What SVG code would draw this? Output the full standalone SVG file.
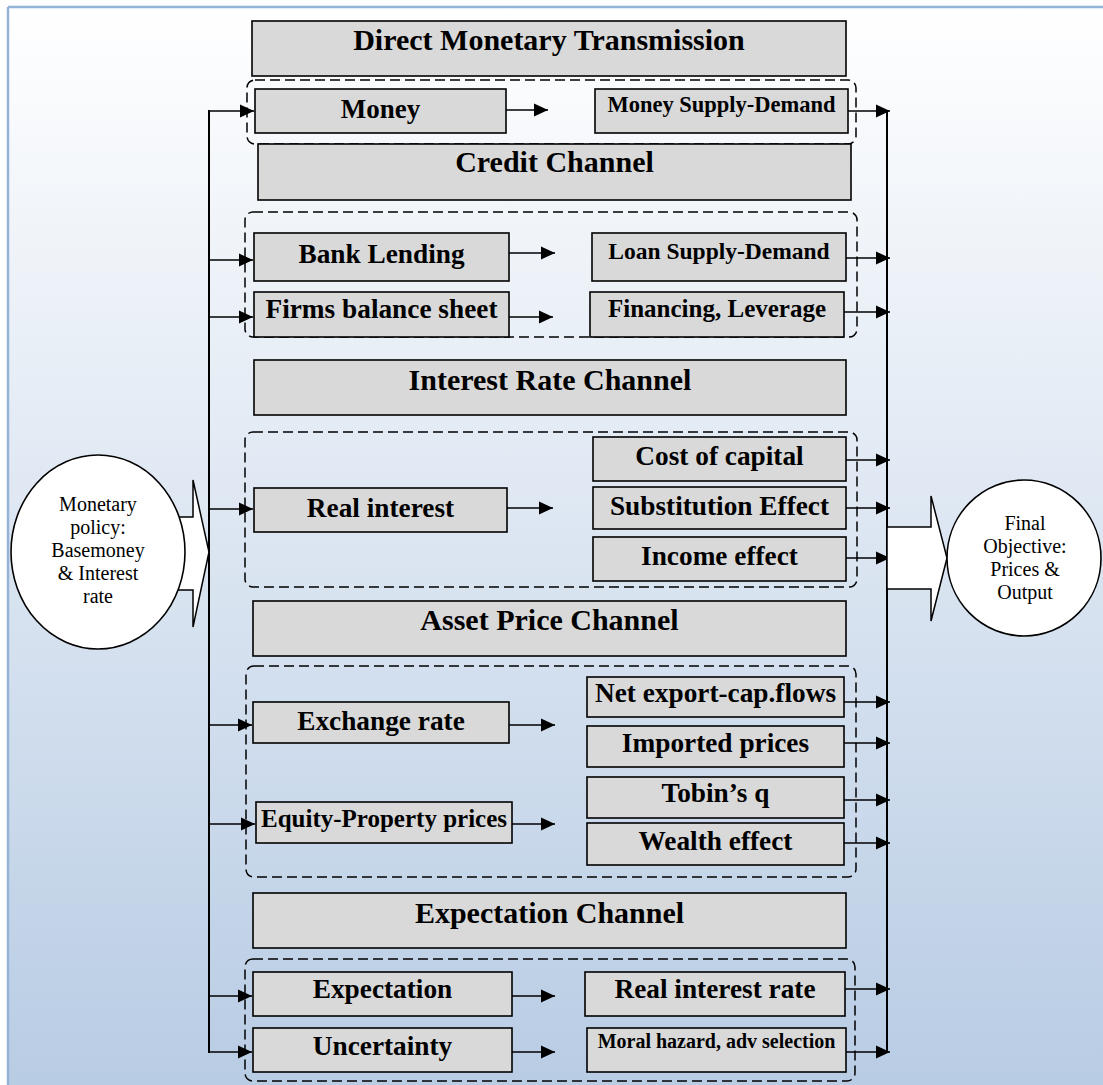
<svg xmlns="http://www.w3.org/2000/svg" width="1103" height="1085" viewBox="0 0 1103 1085">
<defs>
<linearGradient id="bg" x1="0" y1="0" x2="0" y2="1">
<stop offset="0" stop-color="#ffffff"/>
<stop offset="1" stop-color="#b8cce4"/>
</linearGradient>
<marker id="ah" markerUnits="userSpaceOnUse" markerWidth="14" markerHeight="14" refX="14" refY="7" orient="auto">
<path d="M0,0.5 L14,7 L0,13.5 z" fill="#000"/>
</marker>
<style>
.box{fill:#d9d9d9;stroke:#000;stroke-width:1.6}
.grp{fill:none;stroke:#000;stroke-width:1.5;stroke-dasharray:10 5}
.hd{font-family:"Liberation Serif","Times New Roman",serif;font-weight:bold;font-size:30px;text-anchor:middle;fill:#000}
.tx{font-family:"Liberation Serif","Times New Roman",serif;font-weight:bold;font-size:27.3px;text-anchor:middle;fill:#000}
.el{font-family:"Liberation Serif","Times New Roman",serif;font-size:20px;text-anchor:middle;fill:#000}
.ln{stroke:#000;stroke-width:2;fill:none}
.ar{stroke:#000;stroke-width:1.7;fill:none;marker-end:url(#ah)}
.blk{fill:#fff;stroke:#000;stroke-width:1.5}
</style>
</defs>
<rect x="8" y="7" width="1095" height="1078" fill="url(#bg)"/>
<line x1="8" y1="7" x2="1103" y2="7" stroke="#95b3d7" stroke-width="2.5"/>
<line x1="8" y1="7" x2="8" y2="1085" stroke="#95b3d7" stroke-width="2.5"/>

<g id="grp-direct"><rect class="grp" x="247" y="80" width="609" height="64" rx="8"/></g>
<g id="grp-credit"><rect class="grp" x="245" y="212" width="612" height="125" rx="8"/></g>
<g id="grp-interest"><rect class="grp" x="245" y="432" width="612" height="155" rx="8"/></g>
<g id="grp-asset"><rect class="grp" x="246" y="666" width="610" height="211" rx="8"/></g>
<g id="grp-expect"><rect class="grp" x="245" y="959" width="610" height="122" rx="8"/></g>

<g id="h-direct"><rect class="box" x="252" y="21" width="594" height="55"/><text class="hd" x="549" y="50">Direct Monetary Transmission</text></g>
<g id="money"><rect class="box" x="255" y="89" width="251" height="44"/><text class="tx" x="380.5" y="118" style="font-size:27px">Money</text></g>
<g id="money-sd"><rect class="box" x="595" y="89" width="253" height="44"/><text class="tx" x="721.5" y="112" style="font-size:22.5px">Money Supply-Demand</text></g>

<g id="h-credit"><rect class="box" x="258" y="144" width="593" height="56"/><text class="hd" x="554.5" y="172">Credit Channel</text></g>
<g id="bank-lending"><rect class="box" x="254" y="233" width="255" height="48"/><text class="tx" x="381.5" y="263">Bank Lending</text></g>
<g id="loan-sd"><rect class="box" x="592" y="233" width="254" height="48"/><text class="tx" x="719" y="259" style="font-size:23.5px">Loan Supply-Demand</text></g>
<g id="firms-bs"><rect class="box" x="254" y="292" width="255" height="45"/><text class="tx" x="381.5" y="318">Firms balance sheet</text></g>
<g id="financing"><rect class="box" x="590" y="292" width="254" height="45"/><text class="tx" x="717" y="317" style="font-size:25px">Financing, Leverage</text></g>

<g id="h-interest"><rect class="box" x="254" y="360" width="592" height="55"/><text class="hd" x="550" y="390">Interest Rate Channel</text></g>
<g id="real-interest"><rect class="box" x="254" y="488" width="253" height="44"/><text class="tx" x="380.5" y="517">Real interest</text></g>
<g id="cost-capital"><rect class="box" x="593" y="437" width="253" height="44"/><text class="tx" x="719.5" y="465">Cost of capital</text></g>
<g id="substitution"><rect class="box" x="593" y="487" width="253" height="42"/><text class="tx" x="719.5" y="515">Substitution Effect</text></g>
<g id="income"><rect class="box" x="593" y="537" width="253" height="44"/><text class="tx" x="719.5" y="565">Income effect</text></g>

<g id="h-asset"><rect class="box" x="253" y="601" width="593" height="55"/><text class="hd" x="549.5" y="630">Asset Price Channel</text></g>
<g id="exchange"><rect class="box" x="253" y="702" width="256" height="41"/><text class="tx" x="381" y="730">Exchange rate</text></g>
<g id="equity"><rect class="box" x="256" y="802" width="256" height="41"/><text class="tx" x="384" y="827" style="font-size:25px">Equity-Property prices</text></g>
<g id="net-export"><rect class="box" x="587" y="677" width="257" height="40"/><text class="tx" x="715.5" y="702">Net export-cap.flows</text></g>
<g id="imported"><rect class="box" x="587" y="726" width="257" height="41"/><text class="tx" x="715.5" y="752">Imported prices</text></g>
<g id="tobin"><rect class="box" x="587" y="777" width="257" height="41"/><text class="tx" x="715.5" y="802">Tobin’s q</text></g>
<g id="wealth"><rect class="box" x="587" y="823" width="257" height="42"/><text class="tx" x="715.5" y="850">Wealth effect</text></g>

<g id="h-expect"><rect class="box" x="253" y="893" width="593" height="55"/><text class="hd" x="549.5" y="923">Expectation Channel</text></g>
<g id="expectation"><rect class="box" x="253" y="972" width="259" height="44"/><text class="tx" x="382.5" y="998">Expectation</text></g>
<g id="uncertainty"><rect class="box" x="253" y="1028" width="259" height="44"/><text class="tx" x="382.5" y="1055">Uncertainty</text></g>
<g id="real-rate"><rect class="box" x="585" y="972" width="260" height="44"/><text class="tx" x="715" y="998">Real interest rate</text></g>
<g id="moral-hazard"><rect class="box" x="587" y="1028" width="259" height="44"/><text class="tx" x="716.5" y="1048" style="font-size:20px">Moral hazard, adv selection</text></g>

<g id="connectors">
<line class="ln" x1="209" y1="110" x2="209" y2="1053"/>
<line class="ln" x1="887" y1="110" x2="887" y2="1053"/>
<line class="ar" x1="209" y1="111" x2="254" y2="111"/>
<line class="ar" x1="209" y1="260" x2="253" y2="260"/>
<line class="ar" x1="209" y1="317" x2="253" y2="317"/>
<line class="ar" x1="209" y1="509" x2="253" y2="509"/>
<line class="ar" x1="209" y1="725" x2="252" y2="725"/>
<line class="ar" x1="209" y1="824" x2="255" y2="824"/>
<line class="ar" x1="209" y1="996" x2="252" y2="996"/>
<line class="ar" x1="209" y1="1052" x2="252" y2="1052"/>
<line class="ar" x1="506" y1="110" x2="548" y2="110"/>
<line class="ar" x1="509" y1="253" x2="555" y2="253"/>
<line class="ar" x1="509" y1="317" x2="553" y2="317"/>
<line class="ar" x1="507" y1="508" x2="553" y2="508"/>
<line class="ar" x1="509" y1="725" x2="555" y2="725"/>
<line class="ar" x1="512" y1="824" x2="555" y2="824"/>
<line class="ar" x1="512" y1="996" x2="555" y2="996"/>
<line class="ar" x1="512" y1="1052" x2="555" y2="1052"/>
<line class="ar" x1="848" y1="111" x2="890" y2="111"/>
<line class="ar" x1="846" y1="258" x2="890" y2="258"/>
<line class="ar" x1="844" y1="312" x2="890" y2="312"/>
<line class="ar" x1="846" y1="460" x2="890" y2="460"/>
<line class="ar" x1="846" y1="508" x2="890" y2="508"/>
<line class="ar" x1="846" y1="558" x2="890" y2="558"/>
<line class="ar" x1="844" y1="702" x2="890" y2="702"/>
<line class="ar" x1="844" y1="743" x2="890" y2="743"/>
<line class="ar" x1="844" y1="800" x2="890" y2="800"/>
<line class="ar" x1="844" y1="843" x2="890" y2="843"/>
<line class="ar" x1="845" y1="989" x2="890" y2="989"/>
<line class="ar" x1="846" y1="1052" x2="890" y2="1052"/>
<polygon class="blk" points="150,517 193,517 193,480 209,552 193,627 193,590 150,590"/>
<polygon class="blk" points="887,527 931,527 931,496 947,558 931,621 931,589 887,589"/>
</g>

<g id="policy">
<ellipse cx="98" cy="552" rx="87" ry="97" fill="#fff" stroke="#000" stroke-width="1.6"/>
<text class="el" x="98" y="511">Monetary</text>
<text class="el" x="98" y="534">policy:</text>
<text class="el" x="98" y="557">Basemoney</text>
<text class="el" x="98" y="580">&amp; Interest</text>
<text class="el" x="98" y="603">rate</text>
</g>
<g id="objective">
<ellipse cx="1024" cy="558" rx="77" ry="78" fill="#fff" stroke="#000" stroke-width="1.6"/>
<text class="el" x="1025" y="530">Final</text>
<text class="el" x="1025" y="553">Objective:</text>
<text class="el" x="1025" y="576">Prices &amp;</text>
<text class="el" x="1025" y="599">Output</text>
</g>
</svg>
